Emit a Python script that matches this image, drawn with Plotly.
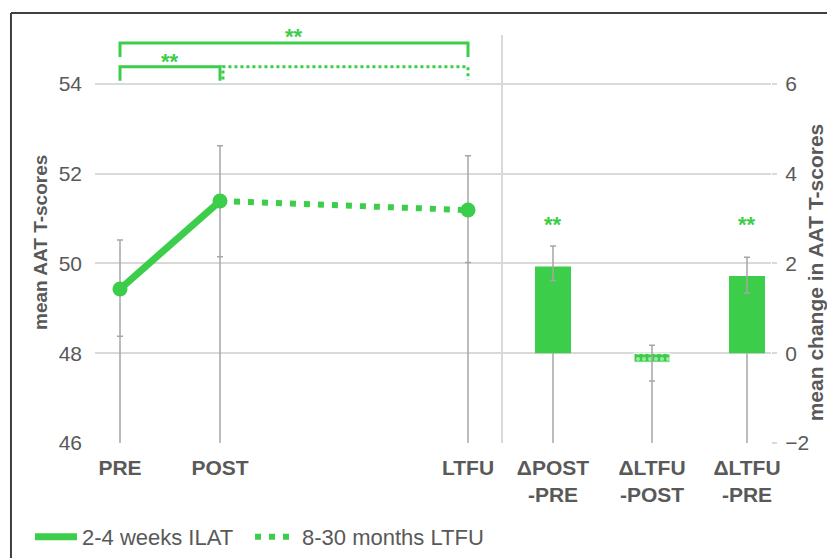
import plotly.graph_objects as go

# ---------------- data ----------------
time_labels = ["PRE", "POST", "LTFU"]
time_pos = [0.0, 1.0, 3.48]
score_mean = [49.43, 51.39, 51.19]
score_hi = [50.52, 52.62, 52.40]
score_lo = [48.38, 50.15, 50.02]

change_labels = ["ΔPOST<br>-PRE", "ΔLTFU<br>-POST", "ΔLTFU<br>-PRE"]
change_pos = [4.33, 5.32, 6.27]
change_mean = [1.93, -0.20, 1.72]
change_hi = [2.39, 0.18, 2.14]
change_lo = [1.62, -0.62, 1.34]
change_sig = ["**", "", "**"]

separator_pos = 3.82
left_ticks = [46, 48, 50, 52, 54]
right_ticks = [-2, 0, 2, 4, 6]

# ---------------- style ----------------
GREEN = "#3ccd4b"
GRAY_TXT = "#595959"
GRID = "#d9d9d9"
ERR = "#a6a6a6"
FONT = "Liberation Sans, Arial, sans-serif"
Y_RANGE = [46, 55.29]
Y2_RANGE = [-2, 7.29]

fig = go.Figure()

# drop lines (axis bottom -> lower error) for time points
for x, lo in zip(time_pos, score_lo):
    fig.add_trace(go.Scatter(x=[x, x], y=[Y_RANGE[0], lo], mode="lines",
                             line=dict(color=ERR, width=1.5),
                             showlegend=False, hoverinfo="skip"))
# error bars for time points
fig.add_trace(go.Scatter(
    x=time_pos, y=score_mean, mode="markers",
    marker=dict(size=1, color="rgba(0,0,0,0)"),
    error_y=dict(type="data", symmetric=False,
                 array=[h - m for h, m in zip(score_hi, score_mean)],
                 arrayminus=[m - l for m, l in zip(score_mean, score_lo)],
                 color=ERR, thickness=1.5, width=3),
    showlegend=False, hoverinfo="skip"))

# drop lines for change bars (on y2)
for x, lo in zip(change_pos, change_lo):
    fig.add_trace(go.Scatter(x=[x, x], y=[Y2_RANGE[0], min(0, lo)], mode="lines",
                             line=dict(color=ERR, width=1.5), yaxis="y2",
                             showlegend=False, hoverinfo="skip"))

# change bars
fig.add_trace(go.Bar(
    x=change_pos, y=change_mean, yaxis="y2", width=0.36,
    marker=dict(color=GREEN,
                line=dict(color=["rgba(0,0,0,0)", "white", "rgba(0,0,0,0)"], width=1),
                pattern=dict(shape=["", ".", ""], fgcolor="white", size=6, solidity=0.35)),
    error_y=dict(type="data", symmetric=False,
                 array=[h - m for h, m in zip(change_hi, change_mean)],
                 arrayminus=[m - l for m, l in zip(change_mean, change_lo)],
                 color=ERR, thickness=1.5, width=3),
    showlegend=False, hoverinfo="skip"))

# lines
fig.add_trace(go.Scatter(x=time_pos[:2], y=score_mean[:2], mode="lines",
                         line=dict(color=GREEN, width=7),
                         name="2-4 weeks ILAT", legend="legend"))
fig.add_trace(go.Scatter(x=time_pos[1:], y=score_mean[1:], mode="lines",
                         line=dict(color=GREEN, width=6, dash="6px,8px"),
                         name="8-30 months LTFU", legend="legend2"))
fig.add_trace(go.Scatter(x=time_pos, y=score_mean, mode="markers",
                         marker=dict(color=GREEN, size=15),
                         showlegend=False, hoverinfo="skip"))

# separator line
fig.add_shape(type="line", x0=separator_pos, x1=separator_pos, y0=Y_RANGE[0], y1=55.09,
              line=dict(color=GRID, width=2), layer="below")

# significance brackets
top_lvl, top_leg = 54.91, 54.60
low_lvl, low_leg = 54.38, 54.07
fig.add_shape(type="path", line=dict(color=GREEN, width=3),
              path=f"M {time_pos[0]},{top_leg} L {time_pos[0]},{top_lvl} "
                   f"L {time_pos[2]},{top_lvl} L {time_pos[2]},{top_leg}")
fig.add_shape(type="path", line=dict(color=GREEN, width=3),
              path=f"M {time_pos[0]},{low_leg} L {time_pos[0]},{low_lvl} "
                   f"L {time_pos[1]},{low_lvl} L {time_pos[1]},{low_leg}")
fig.add_shape(type="path", line=dict(color=GREEN, width=3, dash="3px,3px"),
              path=f"M {time_pos[1] + 0.03},{low_leg + 0.03} L {time_pos[1] + 0.03},{low_lvl} "
                   f"L {time_pos[2]},{low_lvl} L {time_pos[2]},{low_leg + 0.03}")

star_font = dict(family=FONT, size=22, color=GREEN, weight="bold")
fig.add_annotation(x=(time_pos[0] + time_pos[2]) / 2, y=top_lvl, text="**",
                   showarrow=False, yanchor="bottom", font=star_font, yshift=-8)
fig.add_annotation(x=(time_pos[0] + time_pos[1]) / 2, y=low_lvl, text="**",
                   showarrow=False, yanchor="bottom", font=star_font, yshift=-9)
for x, s in zip(change_pos, change_sig):
    if s:
        fig.add_annotation(x=x, y=2.9, yref="y2", text=s, showarrow=False,
                           font=star_font, yshift=-1)

# axis titles
fig.add_annotation(xref="paper", yref="paper", x=-0.0814, y=0.482,
                   xanchor="center", yanchor="middle",
                   text="mean AAT T-scores", textangle=-90, showarrow=False,
                   font=dict(family=FONT, size=19, color=GRAY_TXT, weight="bold"))
fig.add_annotation(xref="paper", yref="paper", x=1.0655, y=0.41,
                   xanchor="center", yanchor="middle",
                   text="mean change in AAT T-scores", textangle=-90, showarrow=False,
                   font=dict(family=FONT, size=21, color=GRAY_TXT, weight="bold"))

# outer frame (top and left edges visible)
fig.add_shape(type="line", xref="paper", yref="paper", x0=-0.1243, x1=1.2,
              y0=1.0312, y1=1.0312, line=dict(color="#404040", width=2))
fig.add_shape(type="line", xref="paper", yref="paper", x0=-0.1243, x1=-0.1243,
              y0=1.0312, y1=-0.4, line=dict(color="#404040", width=2))

legend_common = dict(orientation="h", xanchor="left", y=-0.2254, yanchor="middle",
                     font=dict(family=FONT, size=22, color=GRAY_TXT),
                     itemwidth=42, bgcolor="rgba(0,0,0,0)")

# page body has an 8px default margin, so the figure is offset by 8px
fig.update_layout(
    width=835, height=550,
    margin=dict(l=87, r=72, t=18, b=115, autoexpand=False),
    paper_bgcolor="white", plot_bgcolor="white",
    font=dict(family=FONT, color=GRAY_TXT),
    xaxis=dict(range=[-0.25, 6.51], tickvals=time_pos + change_pos,
               ticktext=time_labels + change_labels, showgrid=False, zeroline=False,
               showline=False, ticks="", ticklabelstandoff=10, automargin=False,
               tickfont=dict(family=FONT, size=21, color=GRAY_TXT, weight="bold")),
    yaxis=dict(range=Y_RANGE, tickvals=left_ticks, showgrid=True, gridcolor=GRID,
               gridwidth=2, zeroline=False, showline=False, ticklabelstandoff=12,
               automargin=False,
               tickfont=dict(family=FONT, size=21, color=GRAY_TXT)),
    yaxis2=dict(range=Y2_RANGE, tickvals=right_ticks, overlaying="y", side="right",
                showgrid=False, zeroline=False, showline=False, ticks="outside",
                ticklen=5, tickcolor=GRID, tickwidth=2, ticklabelstandoff=4,
                automargin=False,
                tickfont=dict(family=FONT, size=21, color=GRAY_TXT)),
    showlegend=True,
    legend=dict(x=-0.0962, **legend_common),
    legend2=dict(x=0.2293, **legend_common),
)

fig.write_html("out.html")
